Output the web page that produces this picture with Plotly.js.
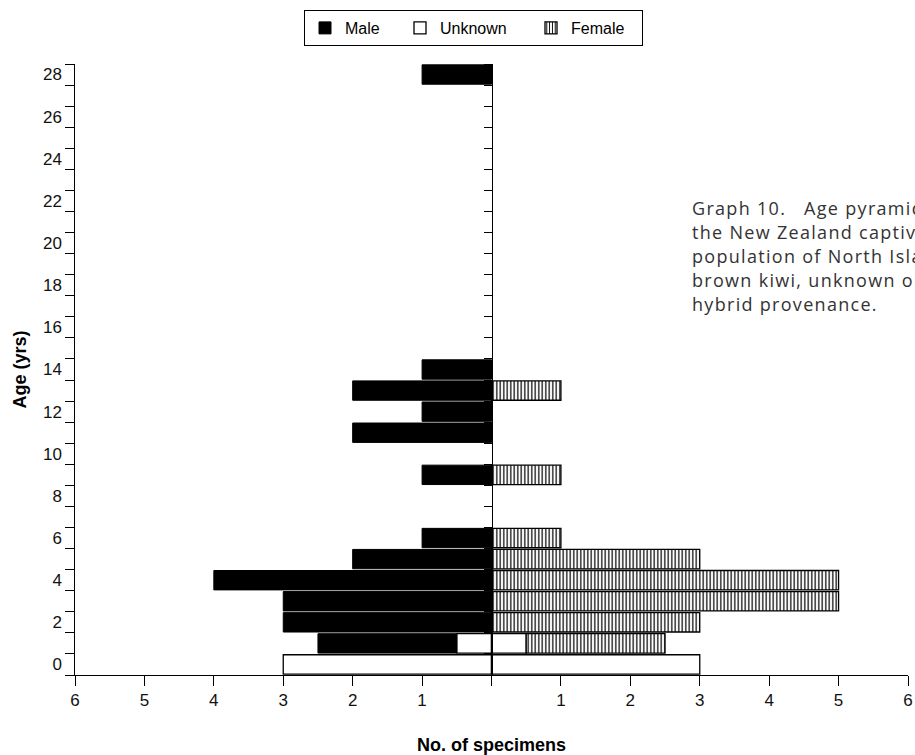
<!DOCTYPE html>
<html>
<head>
<meta charset="utf-8">
<script src="https://cdn.plot.ly/plotly-3.0.1.min.js"></script>
<style>
html,body{margin:0;padding:0;background:#fff;}
#chart{width:915px;height:755px;}
.annotation-text{letter-spacing:1.3px;}
</style>
</head>
<body>
<div id="chart"></div>
<script>
// Data
const maleAges = [1, 2, 3, 4, 5, 6, 9, 11, 12, 13, 14, 28];
const maleCount = [2, 3, 3, 4, 2, 1, 1, 2, 1, 2, 1, 1];
const femaleAges = [1, 2, 3, 4, 5, 6, 9, 13];
const femaleCount = [2, 3, 5, 5, 3, 1, 1, 1];
const unknownAges = [0, 1];
const unknownCount = [6, 1];
const xTickVals = [-6, -5, -4, -3, -2, -1, 0, 1, 2, 3, 4, 5, 6];
const xTickText = ['6', '5', '4', '3', '2', '1', '', '1', '2', '3', '4', '5', '6'];
const yLabelVals = [0, 2, 4, 6, 8, 10, 12, 14, 16, 18, 20, 22, 24, 26, 28];
const captionLines = ['Graph 10.   Age pyramid of', 'the New Zealand captive', 'population of North Island', 'brown kiwi, unknown or', 'hybrid provenance.'];

const yBounds = [];
for (let a = -0.5; a <= 28.5; a += 1) yBounds.push(a);

const FONT = 'Liberation Sans, Arial, sans-serif';
const outline = {color: '#000', width: 1.3};

const traces = [
  {type: 'bar', orientation: 'h', name: 'Unknown', legendgroup: 'u', showlegend: false,
   y: unknownAges, x: unknownCount.map(v => -v / 2),
   marker: {color: '#fff', line: outline}, hoverinfo: 'skip'},
  {type: 'bar', orientation: 'h', name: 'Unknown', legendgroup: 'u', legendrank: 2, legendwidth: 86,
   y: unknownAges, x: unknownCount.map(v => v / 2),
   marker: {color: '#fff', line: outline}},
  {type: 'bar', orientation: 'h', name: 'Male', legendrank: 1, legendwidth: 50,
   y: maleAges, x: maleCount.map(v => -v),
   marker: {color: '#000', line: {color: '#000', width: 1}}},
  {type: 'bar', orientation: 'h', name: 'Female', legendrank: 3, legendwidth: 66,
   y: femaleAges, x: femaleCount,
   marker: {color: '#fff', line: outline,
            pattern: {shape: '|', fgcolor: '#000', bgcolor: '#fff', size: 3.5, solidity: 0.35}}}
];

// caption lines, one annotation per line (page y of each line centre converted to paper coords)
const capTop = 208, capPitch = 24, plotTop = 64, plotBottom = 675;
const annotations = captionLines.map((t, i) => ({
  xref: 'paper', yref: 'paper', x: (690 - 75) / 833, xanchor: 'left',
  y: (plotBottom - (capTop + i * capPitch)) / (plotBottom - plotTop), yanchor: 'middle',
  align: 'left', showarrow: false, text: t,
  font: {family: 'Open Sans, sans-serif', size: 18, color: '#333'}
}));

const layout = {
  width: 915, height: 755,
  margin: {l: 75, r: 7, t: 64, b: 80},
  paper_bgcolor: '#fff', plot_bgcolor: '#fff',
  barmode: 'relative', bargap: 0.08,
  font: {family: FONT, size: 17, color: '#111'},
  showlegend: true,
  legend: {orientation: 'h', x: (304 - 75) / 833, xanchor: 'left', y: 1 + (64 - 10) / 611, yanchor: 'top',
           bordercolor: '#000', borderwidth: 1, font: {family: FONT, size: 16, color: '#000'},
           itemwidth: 30, traceorder: 'normal', tracegroupgap: 0},
  xaxis: {range: [-6, 6], tickmode: 'array', tickvals: xTickVals, ticktext: xTickText,
          ticks: 'outside', ticklen: 10, tickcolor: '#000', tickwidth: 1,
          showline: true, linecolor: '#000', linewidth: 1, showgrid: false, zeroline: false,
          tickfont: {family: FONT, size: 17, color: '#111'},
          title: {text: '<b>No. of specimens</b>', font: {family: FONT, size: 18, color: '#000'}, standoff: 30}},
  yaxis: {range: [-0.5, 28.5], tickmode: 'array', tickvals: yBounds, showticklabels: false,
          ticks: 'outside', ticklen: 9, tickcolor: '#000', tickwidth: 1,
          showline: true, linecolor: '#000', linewidth: 1, showgrid: false, zeroline: false,
          title: {text: '<b>Age (yrs)</b>', font: {family: FONT, size: 18, color: '#000'}, standoff: 33}},
  yaxis2: {range: [-0.5, 28.5], overlaying: 'y', side: 'left', tickmode: 'array', tickvals: yLabelVals,
           ticks: '', showline: false, showgrid: false, zeroline: false, ticklabelstandoff: 12,
           tickfont: {family: FONT, size: 17, color: '#111'}},
  yaxis3: {range: [-0.5, 28.5], overlaying: 'y', anchor: 'free', position: 0.5, side: 'left',
           tickmode: 'array', tickvals: yBounds, showticklabels: false,
           ticks: 'outside', ticklen: 8, tickcolor: '#000', tickwidth: 1,
           showline: true, linecolor: '#000', linewidth: 1, showgrid: false, zeroline: false},
  annotations: annotations
};

// invisible helper traces so the overlay axes render
traces.push({type: 'scatter', x: [0], y: [0], yaxis: 'y2', mode: 'markers', marker: {opacity: 0}, showlegend: false, hoverinfo: 'skip'});
traces.push({type: 'scatter', x: [0], y: [0], yaxis: 'y3', mode: 'markers', marker: {opacity: 0}, showlegend: false, hoverinfo: 'skip'});

Plotly.newPlot('chart', traces, layout, {displayModeBar: false, staticPlot: true});
</script>
</body>
</html>
